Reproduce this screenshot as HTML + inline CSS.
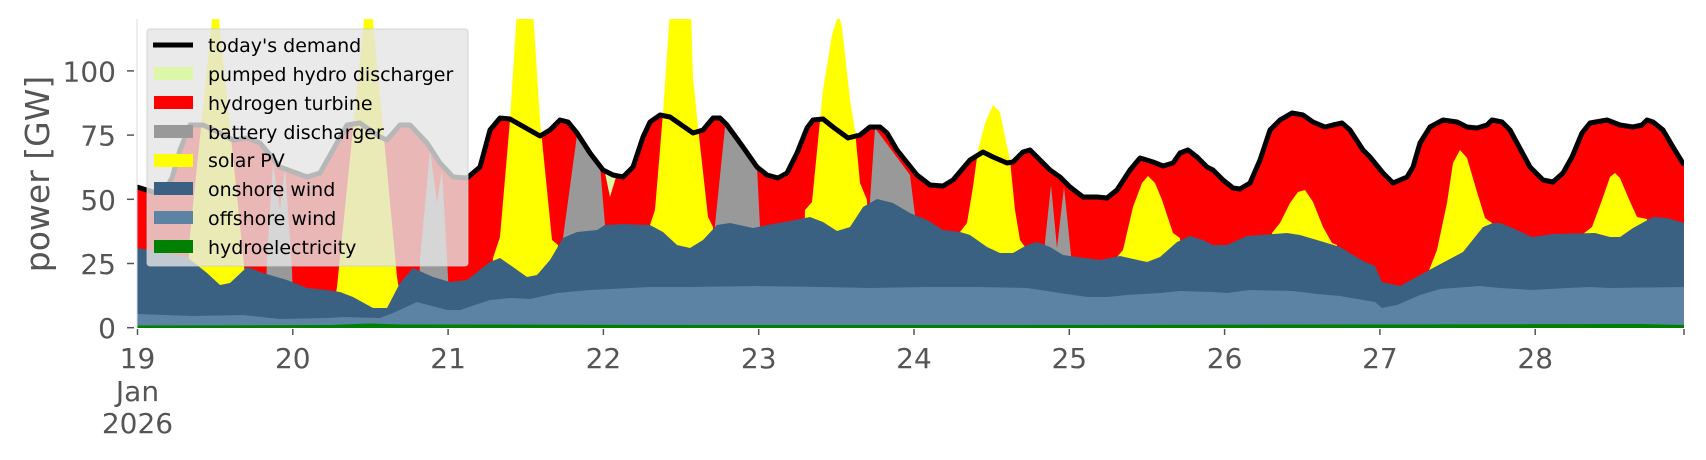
<!DOCTYPE html>
<html><head><meta charset="utf-8"><style>
html,body{margin:0;padding:0;background:#fff;}
svg{display:block;}
text{font-family:"DejaVu Sans","Liberation Sans",sans-serif;}
</style></head><body>
<svg width="1706" height="460" viewBox="0 0 1706 460" xmlns="http://www.w3.org/2000/svg">
<defs><clipPath id="pc"><rect x="137" y="19" width="1547" height="309"/></clipPath></defs>
<g clip-path="url(#pc)">
<polygon fill="#ff0000" points="137,328 137,187 153,192 165,190 172,178 180,150 190,125 203,125 220,133 233,140 247,138 260,143 280,167 307,177 320,173 333,150 347,125 360,123 380,137 387,140 400,125 410,125 427,143 440,163 453,177 467,178 480,167 490,130 500,118 510,119 540,136 550,130 560,120 568,122 577,133 590,153 603,170 613,175 623,177 633,167 643,137 650,122 660,115 670,117 693,133 703,130 713,118 720,118 727,125 743,147 757,167 767,175 778,178 787,173 797,153 807,128 813,120 823,119 833,127 848,138 860,135 870,127 880,127 887,133 897,150 917,175 930,185 943,186 953,180 970,160 983,152 993,157 1007,163 1013,162 1023,152 1030,150 1040,160 1050,170 1060,177 1070,187 1083,197 1097,197 1107,198 1117,190 1130,170 1140,158 1153,162 1163,166 1173,163 1180,153 1188,150 1197,157 1207,167 1213,170 1223,180 1233,188 1240,189 1250,183 1260,160 1270,130 1280,120 1292,113 1303,115 1313,122 1325,127 1333,125 1342,123 1350,130 1363,150 1370,157 1383,173 1393,183 1407,177 1413,167 1420,143 1430,127 1443,120 1457,122 1467,127 1477,128 1487,125 1492,120 1502,122 1510,130 1530,167 1543,180 1553,182 1563,173 1572,157 1582,133 1590,123 1607,120 1620,125 1633,127 1642,125 1647,120 1653,122 1663,130 1673,147 1684,165 1684,328"/>
<polygon fill="#dcf7a8" points="605,173 616,177 610,197"/>
<g fill="#999999">
<polygon points="265,327 267,257 273,163 280,210 285,167 292,270 294,327"/>
<polygon points="418,327 420,260 430,150 437,203 442,170 448,277 450,327"/>
<polygon points="562,327 563,238 577,135 600,165 605,225 606,327"/>
<polygon points="713,327 715,225 725,127 757,167 760,227 762,327"/>
<polygon points="868,327 870,200 875,128 910,175 915,215 917,327"/>
<polygon points="1043,327 1045,242 1051,185 1057,248 1064,187 1071,255 1073,327"/>
</g>
<g fill="#ffff00">
<polygon points="185,327 190,235 213,10 218,10 243,255 250,327"/>
<polygon points="330,327 337,287 365,10 372,10 397,277 405,327"/>
<polygon points="490,327 493,258 500,237 510,120 517,10 533,10 540,120 552,240 558,245 560,327"/>
<polygon points="648,327 650,225 655,210 663,113 670,10 691,10 693,77 698,127 708,217 713,227 716,327"/>
<polygon points="803,327 805,210 812,202 823,90 832,35 837,19 840,19 842,27 850,100 855,130 860,183 867,200 870,327"/>
<polygon points="957,327 960,232 967,223 973,187 978,150 985,123 993,105 1000,112 1005,137 1010,160 1015,210 1020,240 1025,247 1028,327"/>
<polygon points="1115,327 1117,257 1123,250 1133,207 1142,183 1148,176 1155,183 1162,200 1173,233 1180,238 1183,327"/>
<polygon points="1270,327 1272,233 1280,223 1290,203 1298,192 1305,190 1313,202 1323,227 1332,243 1337,245 1340,327"/>
<polygon points="1426,327 1428,273 1437,250 1447,203 1453,163 1460,150 1467,158 1477,192 1485,218 1492,223 1495,327"/>
<polygon points="1580,327 1583,234 1592,227 1602,200 1610,177 1615,173 1620,178 1628,197 1637,217 1647,219 1650,327"/>
</g>
<polygon fill="#3b6182" points="137,328 137,248 187,257 207,273 220,285 230,283 247,267 263,273 287,280 307,288 327,290 340,292 353,297 373,308 387,308 400,283 413,268 433,277 450,282 467,280 490,262 500,258 513,267 527,277 537,275 550,260 563,238 577,232 597,230 605,225 623,224 650,225 663,232 677,245 690,248 703,240 717,225 730,223 753,228 767,225 790,221 810,217 823,222 837,231 850,227 863,207 877,199 893,203 910,213 927,220 943,230 960,232 970,235 987,247 1000,253 1013,253 1027,245 1037,242 1050,247 1063,255 1077,257 1100,260 1120,256 1147,262 1160,257 1177,242 1190,236 1203,240 1213,245 1227,245 1247,236 1287,233 1300,235 1327,243 1340,247 1363,261 1375,266 1382,282 1400,286 1420,275 1433,268 1463,252 1483,227 1493,223 1500,223 1517,230 1532,237 1553,234 1595,233 1610,237 1620,237 1633,228 1653,217 1667,218 1684,223 1684,328"/>
<polygon fill="#5c83a3" points="137,328 137,314 193,316 243,315 280,319 327,318 343,317 380,318 393,313 417,302 447,310 460,310 490,300 510,298 530,299 557,293 590,290 650,287 690,287 757,286 823,287 870,288 927,287 977,287 1027,288 1060,293 1087,297 1107,297 1127,295 1160,293 1180,291 1213,292 1227,293 1250,290 1293,291 1317,294 1340,296 1363,300 1375,302 1382,308 1397,305 1420,295 1440,289 1480,286 1500,288 1533,290 1567,288 1590,287 1610,288 1684,287 1684,328"/>
<polygon fill="#008000" points="137,328 137,325.5 330,325 370,323.5 400,324.5 700,325 1000,325 1400,324.5 1640,324 1684,325 1684,328"/>
<polyline fill="none" stroke="#000" stroke-width="5" stroke-linejoin="round" points="137,187 153,192 165,190 172,178 180,150 190,125 203,125 220,133 233,140 247,138 260,143 280,167 307,177 320,173 333,150 347,125 360,123 380,137 387,140 400,125 410,125 427,143 440,163 453,177 467,178 480,167 490,130 500,118 510,119 540,136 550,130 560,120 568,122 577,133 590,153 603,170 613,175 623,177 633,167 643,137 650,122 660,115 670,117 693,133 703,130 713,118 720,118 727,125 743,147 757,167 767,175 778,178 787,173 797,153 807,128 813,120 823,119 833,127 848,138 860,135 870,127 880,127 887,133 897,150 917,175 930,185 943,186 953,180 970,160 983,152 993,157 1007,163 1013,162 1023,152 1030,150 1040,160 1050,170 1060,177 1070,187 1083,197 1097,197 1107,198 1117,190 1130,170 1140,158 1153,162 1163,166 1173,163 1180,153 1188,150 1197,157 1207,167 1213,170 1223,180 1233,188 1240,189 1250,183 1260,160 1270,130 1280,120 1292,113 1303,115 1313,122 1325,127 1333,125 1342,123 1350,130 1363,150 1370,157 1383,173 1393,183 1407,177 1413,167 1420,143 1430,127 1443,120 1457,122 1467,127 1477,128 1487,125 1492,120 1502,122 1510,130 1530,167 1543,180 1553,182 1563,173 1572,157 1582,133 1590,123 1607,120 1620,125 1633,127 1642,125 1647,120 1653,122 1663,130 1673,147 1684,165"/>
</g>
<line x1="137" y1="19" x2="137" y2="328" stroke="#ddd" stroke-width="1"/>
<g stroke="#555" stroke-width="1.5">
<line x1="127" y1="327.7" x2="134" y2="327.7"/><line x1="127" y1="263.5" x2="134" y2="263.5"/><line x1="127" y1="199.3" x2="134" y2="199.3"/><line x1="127" y1="135.1" x2="134" y2="135.1"/><line x1="127" y1="70.9" x2="134" y2="70.9"/>
</g>
<g fill="#555" font-size="28" text-anchor="end">
<text x="116" y="338">0</text><text x="116" y="274">25</text><text x="116" y="210">50</text><text x="116" y="145.5">75</text><text x="116" y="81.5">100</text>
</g>
<text transform="translate(49,174) rotate(-90)" fill="#555" font-size="33" text-anchor="middle">power [GW]</text>
<g stroke="#555" stroke-width="1.5">
<line x1="137.5" y1="329" x2="137.5" y2="335"/><line x1="292.8" y1="329" x2="292.8" y2="335"/><line x1="448.1" y1="329" x2="448.1" y2="335"/><line x1="603.4" y1="329" x2="603.4" y2="335"/><line x1="758.7" y1="329" x2="758.7" y2="335"/><line x1="914" y1="329" x2="914" y2="335"/><line x1="1069.3" y1="329" x2="1069.3" y2="335"/><line x1="1224.6" y1="329" x2="1224.6" y2="335"/><line x1="1379.9" y1="329" x2="1379.9" y2="335"/><line x1="1535.2" y1="329" x2="1535.2" y2="335"/><line x1="1684" y1="329" x2="1684" y2="335"/>
</g>
<g fill="#555" font-size="28" text-anchor="middle">
<text x="137.5" y="368">19</text><text x="137.5" y="401">Jan</text><text x="137.5" y="433">2026</text>
<text x="292.8" y="368">20</text><text x="448.1" y="368">21</text><text x="603.4" y="368">22</text><text x="758.7" y="368">23</text><text x="914" y="368">24</text><text x="1069.3" y="368">25</text><text x="1224.6" y="368">26</text><text x="1379.9" y="368">27</text><text x="1535.2" y="368">28</text>
</g>
<rect x="147" y="29" width="321" height="237" rx="3" ry="3" fill="rgba(229,229,229,0.8)" stroke="rgba(204,204,204,0.8)" stroke-width="1"/>
<line x1="153" y1="45" x2="193" y2="45" stroke="#000" stroke-width="5"/>
<rect x="154" y="67" width="39" height="13" fill="#dcf7a8"/>
<rect x="154" y="96" width="39" height="13" fill="#ff0000"/>
<rect x="154" y="125" width="39" height="13" fill="#999999"/>
<rect x="154" y="154" width="39" height="13" fill="#ffff00"/>
<rect x="154" y="182" width="39" height="13" fill="#3b6182"/>
<rect x="154" y="211" width="39" height="13" fill="#5c83a3"/>
<rect x="154" y="240" width="39" height="13" fill="#008000"/>
<g fill="#000" font-size="19">
<text x="208" y="52">today's demand</text>
<text x="208" y="81">pumped hydro discharger</text>
<text x="208" y="110">hydrogen turbine</text>
<text x="208" y="139">battery discharger</text>
<text x="208" y="167">solar PV</text>
<text x="208" y="196">onshore wind</text>
<text x="208" y="225">offshore wind</text>
<text x="208" y="254">hydroelectricity</text>
</g>
</svg>
</body></html>
